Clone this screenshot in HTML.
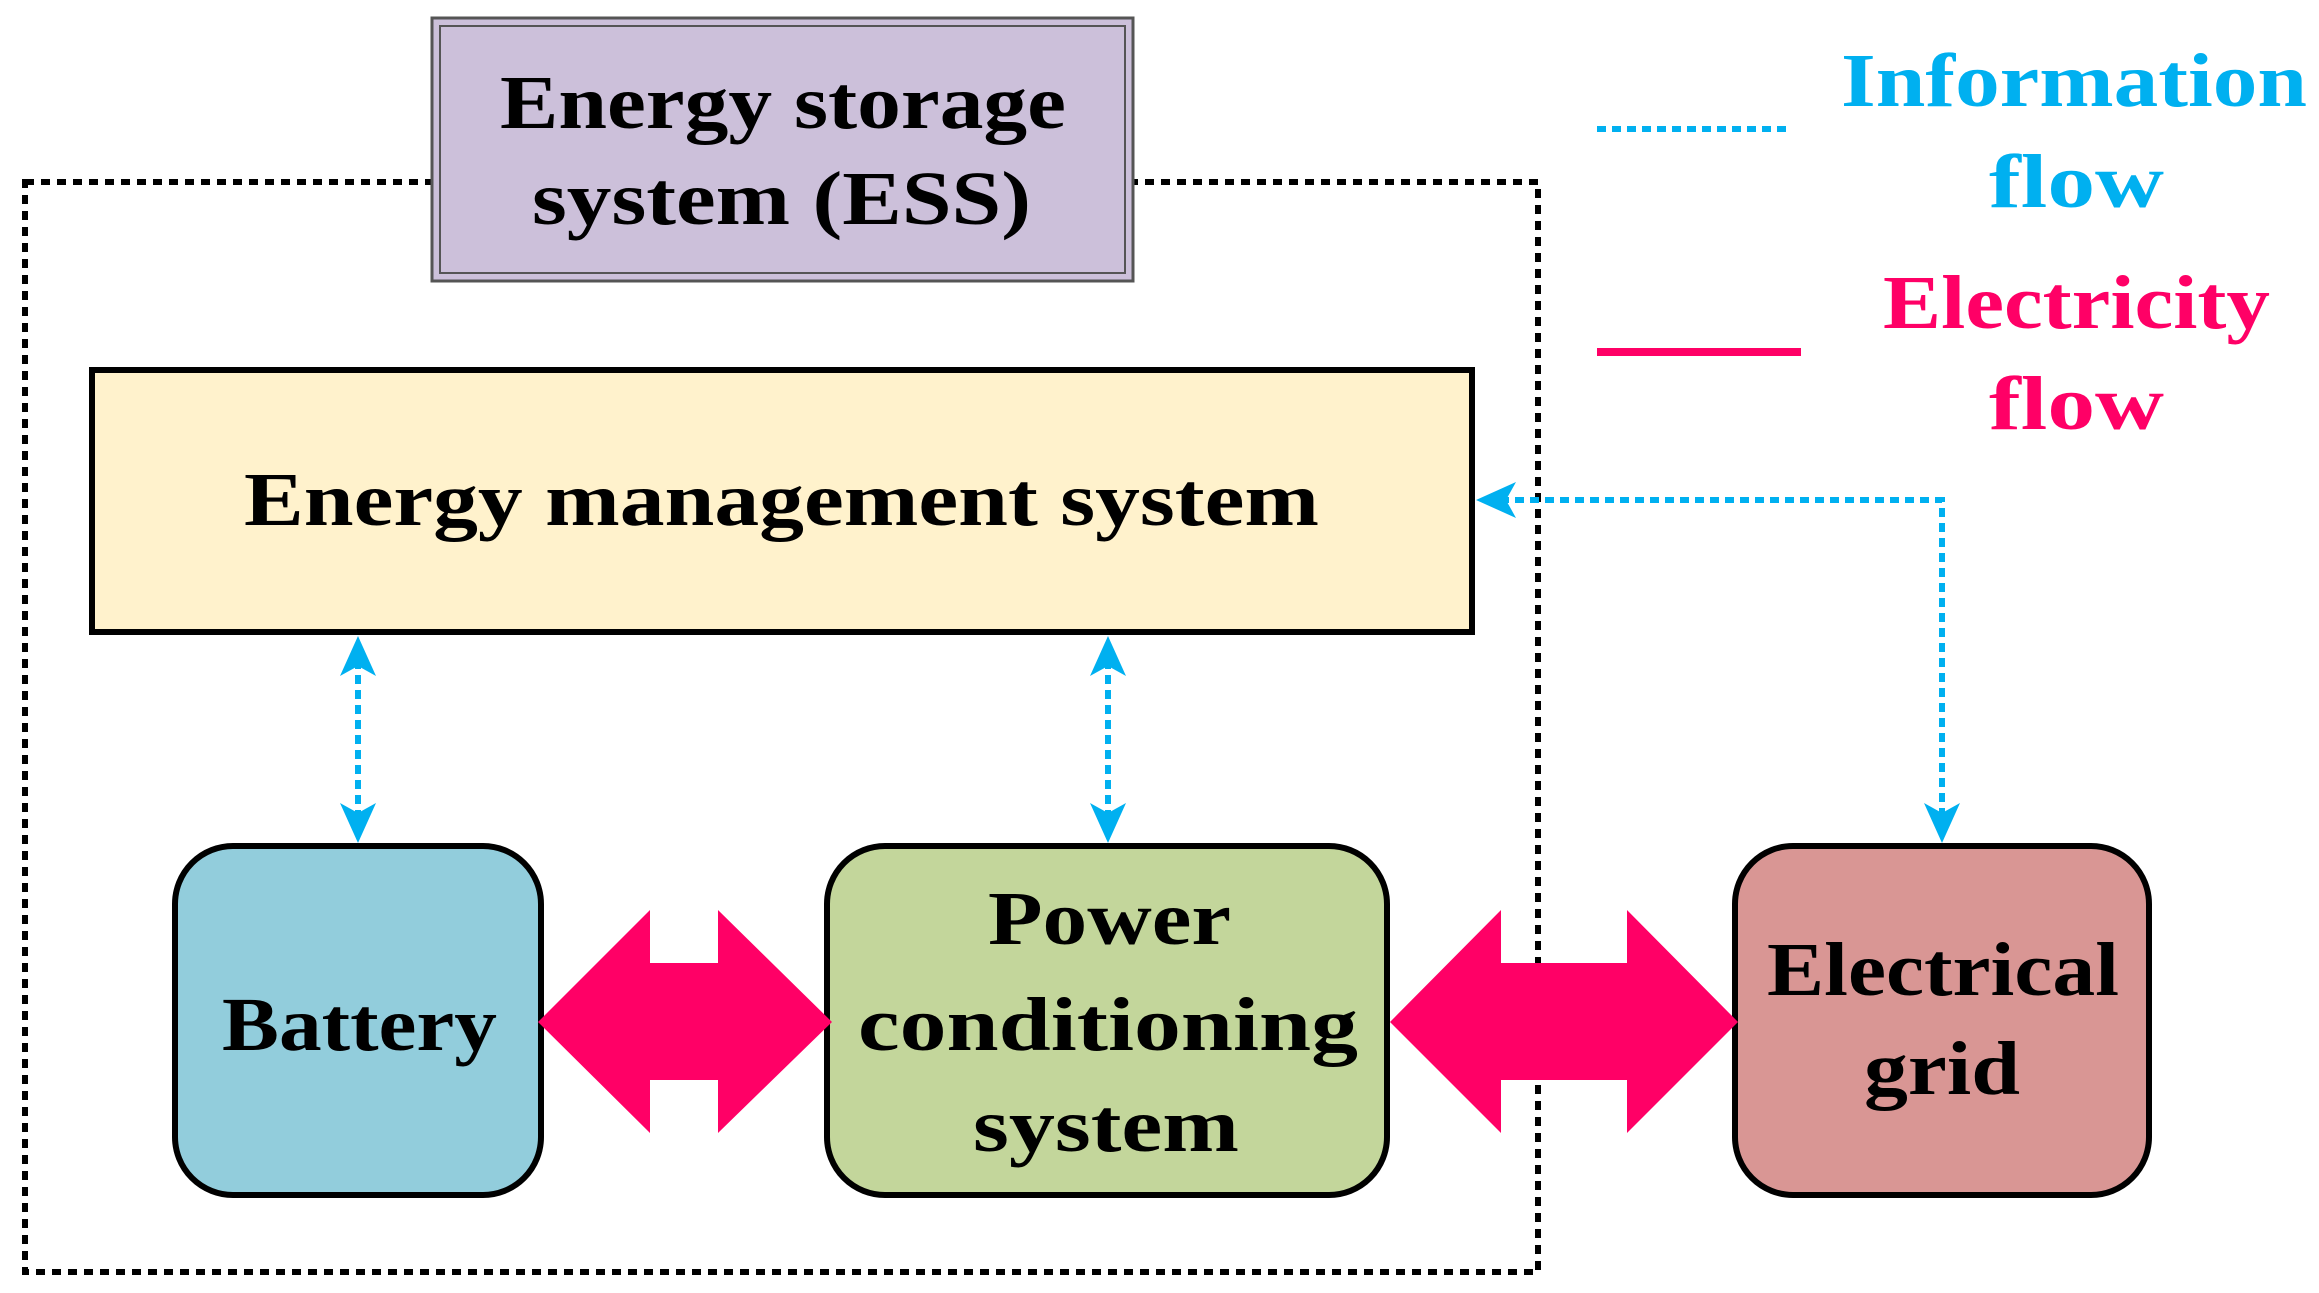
<!DOCTYPE html>
<html><head><meta charset="utf-8"><style>
html,body{margin:0;padding:0;background:#fff;width:2319px;height:1293px;overflow:hidden}
text{font-family:"Liberation Serif",serif;font-weight:bold;font-size:76px}
</style></head><body>
<svg width="2319" height="1293" viewBox="0 0 2319 1293" xmlns="http://www.w3.org/2000/svg">
<rect x="25" y="182" width="1513" height="1090" fill="none" stroke="#000" stroke-width="6" stroke-dasharray="9,7"/>
<rect x="432" y="18" width="701" height="263" fill="#ccc0da" stroke="#555" stroke-width="3"/>
<rect x="440" y="26" width="685" height="247" fill="none" stroke="#555" stroke-width="2"/>
<text x="500" y="128" textLength="566" lengthAdjust="spacingAndGlyphs">Energy storage</text>
<text x="532" y="224" textLength="499" lengthAdjust="spacingAndGlyphs">system (ESS)</text>
<rect x="92" y="370" width="1380" height="262" fill="#fff2cc" stroke="#000" stroke-width="6"/>
<text x="244" y="525" textLength="1075" lengthAdjust="spacingAndGlyphs">Energy management system</text>
<rect x="175" y="846" width="366" height="349" rx="58" fill="#92cddc" stroke="#000" stroke-width="6"/>
<text x="222" y="1050" textLength="275" lengthAdjust="spacingAndGlyphs">Battery</text>
<rect x="827" y="846" width="560" height="349" rx="58" fill="#c3d69b" stroke="#000" stroke-width="6"/>
<text x="988" y="944" textLength="243" lengthAdjust="spacingAndGlyphs">Power</text>
<text x="858" y="1050" textLength="500" lengthAdjust="spacingAndGlyphs">conditioning</text>
<text x="973" y="1151" textLength="266" lengthAdjust="spacingAndGlyphs">system</text>
<rect x="1735" y="846" width="414" height="349" rx="58" fill="#d99694" stroke="#000" stroke-width="6"/>
<text x="1767" y="995" textLength="352" lengthAdjust="spacingAndGlyphs">Electrical</text>
<text x="1864" y="1094" textLength="156" lengthAdjust="spacingAndGlyphs">grid</text>
<polygon points="538,1022 650,910 650,963 718,963 718,910 832,1022 718,1133 718,1080 650,1080 650,1133" fill="#ff0066"/>
<polygon points="1390,1022 1501,910 1501,963 1627,963 1627,910 1738,1022 1627,1133 1627,1080 1501,1080 1501,1133" fill="#ff0066"/>
<g stroke="#00b0f0" stroke-width="6" stroke-dasharray="9,6" fill="none">
<line x1="358" y1="660" x2="358" y2="820"/>
<line x1="1108" y1="660" x2="1108" y2="820"/>
<polyline points="1500,500 1942,500 1942,820"/>
<line x1="1597" y1="129" x2="1787" y2="129"/>
</g>
<g fill="#00b0f0">
<polygon points="358,636 340,676 358,666 376,676"/>
<polygon points="358,843 340,803 358,813 376,803"/>
<polygon points="1108,636 1090,676 1108,666 1126,676"/>
<polygon points="1108,843 1090,803 1108,813 1126,803"/>
<polygon points="1476,500 1516,482 1506,500 1516,518"/>
<polygon points="1942,843 1924,803 1942,813 1960,803"/>
</g>
<line x1="1597" y1="352" x2="1801" y2="352" stroke="#ff0066" stroke-width="8"/>
<text x="1841" y="106" fill="#00b0f0" textLength="466" lengthAdjust="spacingAndGlyphs">Information</text>
<text x="1989" y="207" fill="#00b0f0" textLength="175" lengthAdjust="spacingAndGlyphs">flow</text>
<text x="1883" y="328" fill="#ff0066" textLength="387" lengthAdjust="spacingAndGlyphs">Electricity</text>
<text x="1989" y="429" fill="#ff0066" textLength="175" lengthAdjust="spacingAndGlyphs">flow</text>
</svg>
</body></html>
